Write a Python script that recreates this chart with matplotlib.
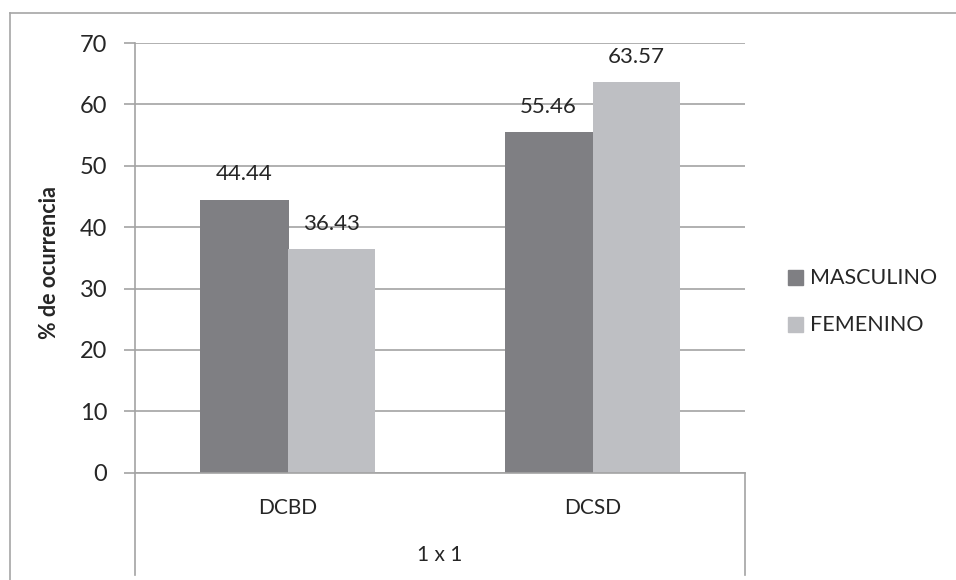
import matplotlib
matplotlib.use("Agg")
import numpy as np
import matplotlib.pyplot as plt
from matplotlib.lines import Line2D
from matplotlib.patches import Rectangle

categories = ["DCBD", "DCSD"]
masculino = [44.44, 55.46]
femenino = [36.43, 63.57]
series_names = ["MASCULINO", "FEMENINO"]
group_label = "1 x 1"
y_ticks = [0, 10, 20, 30, 40, 50, 60, 70]

plt.rcParams['font.family'] = ['Lato', 'DejaVu Sans']

W, H = 956, 580
fig = plt.figure(figsize=(W / 100, H / 100), dpi=100)

def fx(px):
    return px / W

def fy(py):
    return 1 - py / H

left, right, top, bottom = 135, 745, 43, 472.7
ax = fig.add_axes([fx(left), fy(bottom), fx(right - left), (bottom - top) / H])

grid_c = "#a3a3a3"
c_masc = "#7f7f83"
c_fem = "#bebfc3"
txt_c = "#262626"

x = np.arange(len(categories))
w = 0.287
# masculino bars run a hair under the femenino ones so no seam shows between them
b1 = ax.bar(x - w, masculino, w * 1.02, align="edge", color=c_masc, linewidth=0,
            label=series_names[0], zorder=3)
b2 = ax.bar(x, femenino, w, align="edge", color=c_fem, linewidth=0,
            label=series_names[1], zorder=3.5)

for xs, vals in ((x - w / 2, masculino), (x + w / 2, femenino)):
    for xc, v in zip(xs, vals):
        ax.annotate(f"{v:.2f}", (xc, v), xytext=(0, 14), textcoords="offset points",
                    ha="center", va="baseline", fontsize=16, color=txt_c)

ax.set_xlim(-0.5, 1.5)
ax.set_ylim(0, 70)
ax.set_yticks(y_ticks)
ax.set_yticklabels([str(t) for t in y_ticks], fontsize=17, color=txt_c)
ax.tick_params(axis="y", length=8, width=1.2, color=grid_c, pad=12)
ax.set_xticks(x)
ax.set_xticklabels(categories, fontsize=15, color=txt_c)
ax.tick_params(axis="x", length=0, pad=18)
ax.yaxis.grid(True, color=grid_c, linewidth=1.2, zorder=0)
for s in ("top", "right", "left"):
    ax.spines[s].set_visible(False)
ax.spines["bottom"].set_color(grid_c)
ax.spines["bottom"].set_linewidth(1.2)
ax.spines["bottom"].set_zorder(4)

ax.set_ylabel("% de ocurrencia", fontsize=15.5, fontweight="bold", color=txt_c)
ax.yaxis.set_label_coords(fx(60 - left) / fx(right - left), 0.49)

# category axis frame lines (two-level axis)
fig.add_artist(Line2D([fx(left), fx(left)], [fy(43), fy(575)], color=grid_c, lw=1.2))
fig.add_artist(Line2D([fx(right), fx(right)], [fy(bottom), fy(575)], color=grid_c, lw=1.2))
fig.text(fx((left + right) / 2), fy(555), group_label, ha="center", va="center",
         fontsize=15, color=txt_c)

# chart outer border
fig.add_artist(Line2D([fx(10), fx(10)], [fy(13), 0], color="#a6a6a6", lw=1.2))
fig.add_artist(Line2D([fx(10), 1], [fy(13), fy(13)], color="#a6a6a6", lw=1.2))

# legend
for i, (name, col) in enumerate(zip(series_names, [c_masc, c_fem])):
    yc = 278 + i * 47
    fig.add_artist(Rectangle((fx(788), fy(yc + 7)), fx(15), 15 / H, color=col))
    fig.text(fx(810), fy(yc), name, ha="left", va="center", fontsize=15.5, color=txt_c)

fig.savefig("out.png", dpi=100)
